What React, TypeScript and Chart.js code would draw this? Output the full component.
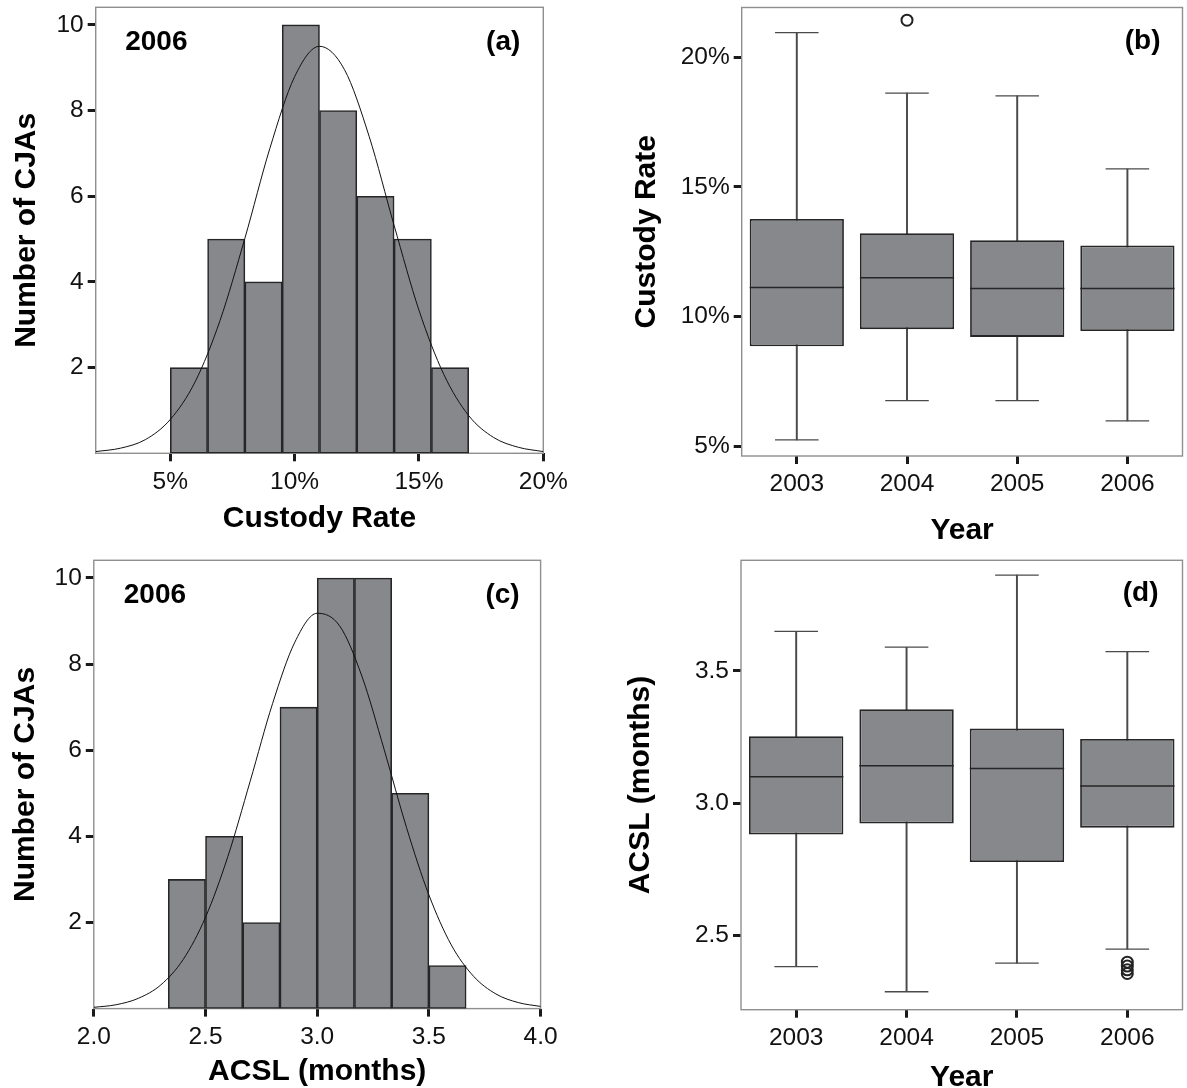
import React, { useEffect, useRef } from 'react';
import { Chart, registerables } from 'chart.js';

Chart.register(...registerables);

const FONT = "'Liberation Sans', Arial, Helvetica, sans-serif";
const BAR_FILL = '#87888c';
const EDGE = '#262626';
const WHISKER = '#4a4a4a';
const FRAME = '#8f8f8f';

// ---------- (a) Custody rate histogram, 2006 ----------
const RATE_BIN_EDGES = [5, 6.5, 8, 9.5, 11, 12.5, 14, 15.5, 17];
const RATE_COUNTS = [2, 5, 4, 10, 8, 6, 5, 2];
const RATE_CURVE_X = [2, 3, 4, 5, 6, 7, 8, 9, 10, 11, 12, 13, 14, 15, 16, 17, 18, 19, 20];
const RATE_CURVE_Y = [0.04, 0.12, 0.32, 0.79, 1.67, 3.1, 5.02, 7.11, 8.79, 9.5, 8.96, 7.39, 5.32, 3.34, 1.84, 0.88, 0.37, 0.14, 0.04];
const RATE_X_TICKS = [5, 10, 15, 20];
const COUNT_TICKS = [2, 4, 6, 8, 10];

// ---------- (c) ACSL histogram, 2006 ----------
const ACSL_BIN_EDGES = [2.3333, 2.5, 2.6667, 2.8333, 3.0, 3.1667, 3.3333, 3.5, 3.6667];
const ACSL_COUNTS = [3, 4, 2, 7, 10, 10, 5, 1];
const ACSL_CURVE_X = [2.0, 2.1, 2.2, 2.3, 2.4, 2.5, 2.6, 2.7, 2.8, 2.9, 3.0, 3.1, 3.2, 3.3, 3.4, 3.5, 3.6, 3.7, 3.8, 3.9, 4.0];
const ACSL_CURVE_Y = [0.03, 0.09, 0.24, 0.55, 1.14, 2.12, 3.53, 5.28, 7.08, 8.51, 9.18, 8.89, 7.72, 6.01, 4.2, 2.64, 1.48, 0.75, 0.34, 0.14, 0.05];
const ACSL_X_TICKS = [2.0, 2.5, 3.0, 3.5, 4.0];

// ---------- (b) Custody rate by year ----------
const YEARS = ['2003', '2004', '2005', '2006'];
const RATE_MIN = [5.24, 6.75, 6.75, 5.97];
const RATE_Q1 = [8.85, 9.51, 9.21, 9.44];
const RATE_MED = [11.12, 11.49, 11.08, 11.08];
const RATE_Q3 = [13.76, 13.21, 12.94, 12.74];
const RATE_MAX = [20.95, 18.62, 18.51, 15.69];
const RATE_OUT_YEAR = ['2004'];
const RATE_OUT_VAL = [21.43];
const RATE_Y_TICKS = [5, 10, 15, 20];

// ---------- (d) ACSL by year ----------
const ACSL_MIN = [2.381, 2.286, 2.394, 2.447];
const ACSL_Q1 = [2.881, 2.923, 2.777, 2.907];
const ACSL_MED = [3.1, 3.141, 3.131, 3.065];
const ACSL_Q3 = [3.253, 3.355, 3.282, 3.243];
const ACSL_MAX = [3.65, 3.59, 3.863, 3.573];
const ACSL_OUT_YEAR = ['2006', '2006', '2006', '2006'];
const ACSL_OUT_VAL = [2.398, 2.383, 2.369, 2.355];
const ACSL_Y_TICKS = [2.5, 3.0, 3.5];

type Lay = {
  left: number; top: number; width: number; height: number;
  padTop: number; padRight: number; yAxisW: number; xAxisH: number;
  yTitlePad: number; xTitlePad: number;
  tagL?: string; tagR: string; tagDx: number; tagDxR: number; tagDy: number;
};

const framePlugin = {
  id: 'frame',
  beforeDatasetsDraw(chart: any) {
    const { ctx, chartArea: a } = chart;
    ctx.save();
    ctx.strokeStyle = FRAME;
    ctx.lineWidth = 1.4;
    ctx.strokeRect(a.left, a.top, a.right - a.left, a.bottom - a.top);
    ctx.restore();
  },
};

const tagPlugin = {
  id: 'tags',
  afterDraw(chart: any, _args: any, o: any) {
    const { ctx, chartArea: a } = chart;
    ctx.save();
    ctx.font = `bold 28px ${FONT}`;
    ctx.fillStyle = '#000';
    ctx.textBaseline = 'middle';
    if (o.left) {
      ctx.textAlign = 'left';
      ctx.fillText(o.left, a.left + o.dx, a.top + o.dy);
    }
    if (o.right) {
      ctx.textAlign = 'right';
      ctx.fillText(o.right, a.right - o.dxR, a.top + o.dy);
    }
    ctx.restore();
  },
};

const tickFont = { family: FONT, size: 24.5 };
const titleFont = { family: FONT, size: 30, weight: 'bold' as const };
const gridOpts = {
  offset: false,
  drawOnChartArea: false,
  drawTicks: true,
  tickLength: 8,
  tickWidth: 3,
  tickColor: '#1a1a1a',
};

function baseScales(lay: Lay, xTitle: string, yTitle: string, yMin: number, yMax: number, yTicks: number[], yFmt: (v: number) => string) {
  return {
    x: {
      offset: false,
      afterFit: (s: any) => { s.height = lay.xAxisH; s.paddingLeft = 0; s.paddingRight = 0; },
      grid: gridOpts,
      border: { display: false },
      ticks: { font: tickFont, color: '#111', padding: 6, maxRotation: 0, autoSkip: false },
      title: { display: true, text: xTitle, font: titleFont, color: '#000', padding: { top: 0, bottom: lay.xTitlePad } },
    },
    y: {
      type: 'linear',
      min: yMin,
      max: yMax,
      afterBuildTicks: (s: any) => { s.ticks = yTicks.map((value) => ({ value })); },
      afterFit: (s: any) => { s.width = lay.yAxisW; s.paddingTop = 0; s.paddingBottom = 0; },
      grid: gridOpts,
      border: { display: false },
      ticks: { font: tickFont, color: '#111', padding: 4, autoSkip: false, callback: (v: any) => yFmt(Number(v)) },
      title: { display: true, text: yTitle, font: titleFont, color: '#000', padding: { top: lay.yTitlePad, bottom: 0 } },
    },
  };
}

function commonOptions(lay: Lay) {
  return {
    responsive: false,
    animation: false,
    events: [],
    layout: { padding: { left: 0, top: lay.padTop, right: lay.padRight, bottom: 0 } },
    plugins: {
      legend: { display: false },
      tooltip: { enabled: false },
      tags: { left: lay.tagL, right: lay.tagR, dx: lay.tagDx, dxR: lay.tagDxR, dy: lay.tagDy },
    },
  };
}

function histConfig(lay: Lay, edges: number[], counts: number[], cx: number[], cy: number[], xMin: number, xMax: number, xTicks: number[], xFmt: (v: number) => string, xTitle: string) {
  const bars = counts.map((c, i) => ({ x: (edges[i] + edges[i + 1]) / 2, y: c }));
  const curve = cx.map((x, i) => ({ x, y: cy[i] }));
  const scales: any = baseScales(lay, xTitle, 'Number of CJAs', 0, 10.41, COUNT_TICKS, (v) => String(v));
  scales.x = {
    ...scales.x,
    type: 'linear',
    min: xMin,
    max: xMax,
    afterBuildTicks: (s: any) => { s.ticks = xTicks.map((value) => ({ value })); },
    ticks: { ...scales.x.ticks, callback: (v: any) => xFmt(Number(v)) },
  };
  return {
    type: 'bar',
    data: {
      datasets: [
        { type: 'line', data: curve, borderColor: '#111', borderWidth: 1, pointRadius: 0, cubicInterpolationMode: 'monotone', fill: false, order: 0 },
        { type: 'bar', data: bars, backgroundColor: BAR_FILL, borderColor: EDGE, borderWidth: 1.6, borderSkipped: false, barPercentage: 1, categoryPercentage: 1, order: 1 },
      ],
    },
    options: { ...commonOptions(lay), scales },
    plugins: [framePlugin, tagPlugin],
  };
}

const BOX_FRAC = 0.855;
const CAP_FRAC = 0.395;
function slotHalf(chart: any, frac: number) {
  const s = chart.scales.x;
  return (s.width / YEARS.length) * frac / 2;
}

function boxConfig(lay: Lay, mn: number[], q1: number[], med: number[], q3: number[], mx: number[], outYear: string[], outVal: number[], yMin: number, yMax: number, yTicks: number[], yFmt: (v: number) => string, yTitle: string) {
  const scales: any = baseScales(lay, 'Year', yTitle, yMin, yMax, yTicks, yFmt);
  scales.x = { ...scales.x, type: 'category', offset: true, ticks: { ...scales.x.ticks, callback: (_v: any, i: number) => YEARS[i] } };
  const capStyle = (data: number[], order: number) => ({
    type: 'line', data, showLine: false, pointStyle: 'line',
    pointRadius: (c: any) => slotHalf(c.chart, CAP_FRAC), pointBorderColor: WHISKER, pointBorderWidth: 1.3, order,
  });
  return {
    type: 'bar',
    data: {
      labels: YEARS,
      datasets: [
        { type: 'line', data: outYear.map((x, i) => ({ x, y: outVal[i] })), showLine: false, pointStyle: 'circle', pointRadius: 5.5, pointBorderWidth: 2, pointBorderColor: '#222', pointBackgroundColor: 'rgba(0,0,0,0)', order: 0 },
        { type: 'line', data: med, showLine: false, pointStyle: 'line', pointRadius: (c: any) => slotHalf(c.chart, BOX_FRAC), pointBorderColor: EDGE, pointBorderWidth: 1.5, order: 1 },
        capStyle(mx, 2),
        capStyle(mn, 3),
        { type: 'bar', data: q1.map((v, i) => [v, q3[i]]), backgroundColor: BAR_FILL, borderColor: EDGE, borderWidth: 1.8, borderSkipped: false, grouped: false, barPercentage: BOX_FRAC, categoryPercentage: 1, order: 4 },
        { type: 'bar', data: mn.map((v, i) => [v, mx[i]]), backgroundColor: WHISKER, borderWidth: 0, grouped: false, barThickness: 1.3, order: 5 },
      ],
    },
    options: { ...commonOptions(lay), scales },
    plugins: [framePlugin, tagPlugin],
  };
}

const LAY_A: Lay = { left: 0, top: 0, width: 593, height: 560, padTop: 7.3, padRight: 49.7, yAxisW: 95.7, xAxisH: 106.7, yTitlePad: 8.7, xTitlePad: 23, tagL: '2006', tagR: '(a)', tagDx: 29.5, tagDxR: 23, tagDy: 35 };
const LAY_B: Lay = { left: 593, top: 0, width: 597, height: 560, padTop: 6.2, padRight: 0, yAxisW: 148.7, xAxisH: 104, yTitlePad: 36, xTitlePad: 11, tagR: '(b)', tagDx: 0, tagDxR: 22, tagDy: 34 };
const LAY_C: Lay = { left: 0, top: 540, width: 593, height: 560, padTop: 20.3, padRight: 52.4, yAxisW: 93.8, xAxisH: 91.4, yTitlePad: 8, xTitlePad: 10, tagL: '2006', tagR: '(c)', tagDx: 30, tagDxR: 21, tagDy: 35 };
const LAY_D: Lay = { left: 593, top: 540, width: 597, height: 560, padTop: 20.3, padRight: 0, yAxisW: 148, xAxisH: 90.3, yTitlePad: 29.5, xTitlePad: 4, tagR: '(d)', tagDx: 0, tagDxR: 24, tagDy: 33 };

function Panel({ lay, make }: { lay: Lay; make: () => any }) {
  const ref = useRef<HTMLCanvasElement>(null);
  useEffect(() => {
    const chart = new Chart(ref.current as HTMLCanvasElement, make());
    return () => chart.destroy();
  }, []);
  return (
    <canvas
      ref={ref}
      width={lay.width}
      height={lay.height}
      style={{ position: 'absolute', left: lay.left, top: lay.top, width: lay.width, height: lay.height }}
    />
  );
}

export default function App() {
  return (
    <div style={{ position: 'absolute', left: 0, top: 0, width: 1187, height: 1088, overflow: 'hidden', background: '#fff' }}>
      <Panel lay={LAY_A} make={() => histConfig(LAY_A, RATE_BIN_EDGES, RATE_COUNTS, RATE_CURVE_X, RATE_CURVE_Y, 2, 20, RATE_X_TICKS, (v) => `${v}%`, 'Custody Rate')} />
      <Panel lay={LAY_B} make={() => boxConfig(LAY_B, RATE_MIN, RATE_Q1, RATE_MED, RATE_Q3, RATE_MAX, RATE_OUT_YEAR, RATE_OUT_VAL, 4.615, 21.92, RATE_Y_TICKS, (v) => `${v}%`, 'Custody Rate')} />
      <Panel lay={LAY_C} make={() => histConfig(LAY_C, ACSL_BIN_EDGES, ACSL_COUNTS, ACSL_CURVE_X, ACSL_CURVE_Y, 2, 4, ACSL_X_TICKS, (v) => v.toFixed(1), 'ACSL (months)')} />
      <Panel lay={LAY_D} make={() => boxConfig(LAY_D, ACSL_MIN, ACSL_Q1, ACSL_MED, ACSL_Q3, ACSL_MAX, ACSL_OUT_YEAR, ACSL_OUT_VAL, 2.218, 3.919, ACSL_Y_TICKS, (v) => v.toFixed(1), 'ACSL (months)')} />
    </div>
  );
}
